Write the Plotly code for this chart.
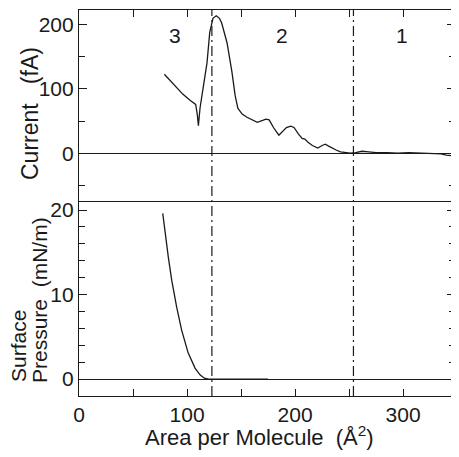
import plotly.graph_objects as go

# ---- data ----
current_x = [79, 87, 96, 103, 108, 109.5, 110.5, 112, 115, 118.5, 121, 124, 127, 130, 132,
             137, 141.5, 144.5, 147, 151, 155.5, 160, 165, 170, 173, 176, 180, 185, 188,
             192, 196, 199, 203, 206.5, 209, 212, 216, 221, 225, 228, 231, 234, 238, 242,
             247, 251, 256, 262, 268, 275, 285, 295, 305, 315, 325, 335, 340, 345]
current_y = [123, 109, 92, 82, 76, 60, 43, 70, 101, 141, 188, 210, 214, 210, 203,
             172, 127, 90, 70, 61, 56, 52, 48, 51, 53, 52, 40, 28, 33,
             40, 42, 40, 30, 23, 22, 17, 12, 8, 12, 14, 11, 8, 5, 2,
             1, 0, 1, 3, 2, 1, 1, 0, 1, 0, 0, -1, -3, -4]

pressure_x = [77.5, 79.6, 82.7, 85.8, 90.4, 95, 101, 107.4, 112, 116, 120, 130, 150, 175]
pressure_y = [19.6, 17.3, 14.4, 11.7, 8.5, 5.8, 3.1, 1.3, 0.5, 0.1, 0, 0, 0, 0]

phase_bounds = [123, 254]
phase_labels = ["3", "2", "1"]
phase_label_x = [89, 188, 299]

x_tickvals = [0, 100, 200, 300]
x_ticktext = ["0", "100", "200", "300"]

FONT = "Liberation Sans, Arial, sans-serif"
INK = "#1a1a1a"

fig = go.Figure()
fig.add_trace(go.Scatter(x=current_x, y=current_y, mode="lines",
                         line=dict(color=INK, width=1.3), xaxis="x2", yaxis="y2",
                         showlegend=False))
fig.add_trace(go.Scatter(x=pressure_x, y=pressure_y, mode="lines",
                         line=dict(color=INK, width=1.3), xaxis="x", yaxis="y",
                         showlegend=False))

split = 1 - 192 / 386

common_axis = dict(showline=True, linecolor=INK, linewidth=1.2, showgrid=False,
                   ticks="inside", tickcolor=INK, tickwidth=1.1, automargin=False,
                   tickfont=dict(family=FONT, size=21, color=INK))

# the page body adds an 8px offset, so the figure is 8px smaller and margins shifted
fig.update_layout(
    width=451, height=449,
    margin=dict(l=71, r=4, t=2, b=61),
    paper_bgcolor="white", plot_bgcolor="white",
    font=dict(family=FONT, color=INK),
    xaxis=dict(**common_axis, range=[0, 348], domain=[0, 1], anchor="y",
               tickvals=x_tickvals, ticktext=x_ticktext, ticklen=7, mirror=True,
               minor=dict(dtick=50, tick0=0, ticklen=7, ticks="inside", tickcolor=INK),
               zeroline=False),
    yaxis=dict(**common_axis, range=[-2.0, 20.95], domain=[0, split], anchor="x",
               dtick=10, tick0=0, ticklen=8, mirror="ticks",
               minor=dict(dtick=2, ticklen=6, ticks="inside", tickcolor=INK),
               zeroline=True, zerolinecolor=INK, zerolinewidth=1.2),
    xaxis2=dict(**common_axis, range=[0, 348], domain=[0, 1], anchor="y2", side="top",
                matches="x", showticklabels=False, dtick=50, tick0=0, ticklen=7,
                mirror=False, zeroline=False),
    yaxis2=dict(**common_axis, range=[-76, 223], domain=[split, 1], anchor="x2",
                dtick=100, tick0=0, ticklen=8, mirror="ticks",
                minor=dict(dtick=50, ticklen=6, ticks="inside", tickcolor=INK),
                zeroline=True, zerolinecolor=INK, zerolinewidth=1.2),
)

for b in phase_bounds:
    fig.add_shape(type="line", xref="x", yref="paper", x0=b, x1=b, y0=0, y1=1,
                  line=dict(color=INK, width=1.2, dash="10px,4px,2px,4px"))

for lab, lx in zip(phase_labels, phase_label_x):
    fig.add_annotation(text=lab, x=lx, y=183, xref="x2", yref="y2", showarrow=False,
                       font=dict(family=FONT, size=21, color=INK))

def py(px):
    return (396 - px) / 386

nb = "\u00a0"
fig.add_annotation(text="Current" + nb * 3 + "(fA)", xref="paper", yref="paper",
                   x=0, xshift=30 - 79, y=py(114), xanchor="center", yanchor="middle",
                   textangle=-90, showarrow=False, font=dict(family=FONT, size=23, color=INK))
fig.add_annotation(text="Surface", xref="paper", yref="paper",
                   x=0, xshift=18 - 79, y=py(383), xanchor="center", yanchor="bottom",
                   textangle=-90, showarrow=False, borderpad=0,
                   font=dict(family=FONT, size=21, color=INK))
fig.add_annotation(text="Pressure" + nb * 2 + "(mN/m)", xref="paper", yref="paper",
                   x=0, xshift=39 - 79, y=py(384), xanchor="center", yanchor="bottom",
                   textangle=-90, showarrow=False, borderpad=0,
                   font=dict(family=FONT, size=21, color=INK))
fig.add_annotation(text="Area per Molecule" + nb * 2 + "(Å<sup>2</sup>)", xref="paper", yref="paper",
                   x=(259 - 79) / 376, y=py(436), xanchor="center", yanchor="middle",
                   showarrow=False, font=dict(family=FONT, size=22, color=INK))

fig.write_html("out.html")
